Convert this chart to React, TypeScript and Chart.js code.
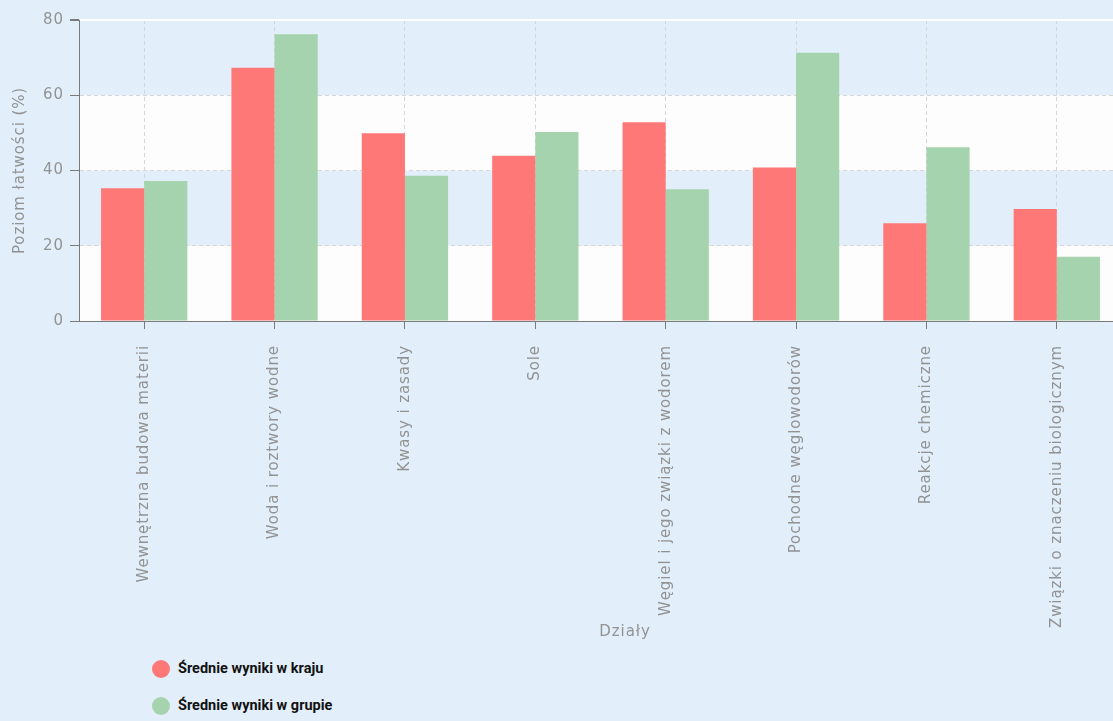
import React, { useEffect, useRef } from 'react';
import { Chart, registerables } from 'chart.js';

Chart.register(...registerables);

const categories = [
  'Wewnętrzna budowa materii',
  'Woda i roztwory wodne',
  'Kwasy i zasady',
  'Sole',
  'Węgiel i jego związki z wodorem',
  'Pochodne węglowodorów',
  'Reakcje chemiczne',
  'Związki o znaczeniu biologicznym',
];
const seriesNames = ['Średnie wyniki w kraju', 'Średnie wyniki w grupie'];
const krajValues = [35.3, 67.3, 49.9, 43.9, 52.8, 40.8, 26.0, 29.8];
const grupaValues = [37.2, 76.2, 38.6, 50.2, 35.0, 71.3, 46.2, 17.1];
const seriesColors = ['#ff7878', '#a5d3ad'];
const yMin = 0;
const yMax = 80;
const yStep = 20;
const whiteBands: [number, number][] = [
  [0, 20],
  [40, 60],
];
const yTitle = 'Poziom łatwości (%)';
const xTitle = 'Działy';

const BG = '#e2effa';
const TEXT_GRAY = '#929292';
const AXIS_GRAY = '#7a7a7a';
const GRID_GRAY = '#d6d6d6';
const LETTER_SPACING = '0.9px';
const FONT = 'DejaVu Sans';

const bandsPlugin = {
  id: 'bandsAndSpacing',
  beforeUpdate(chart: any) {
    chart.ctx.letterSpacing = LETTER_SPACING;
  },
  beforeLayout(chart: any) {
    chart.ctx.letterSpacing = LETTER_SPACING;
  },
  beforeDraw(chart: any) {
    const ctx = chart.ctx;
    ctx.letterSpacing = LETTER_SPACING;
    const { left, right } = chart.chartArea;
    const y = chart.scales.y;
    ctx.save();
    ctx.fillStyle = '#fdfdfd';
    for (const [a, b] of whiteBands) {
      const y1 = y.getPixelForValue(b);
      const y2 = y.getPixelForValue(a);
      ctx.fillRect(left, y1, right - left, y2 - y1);
    }
    ctx.restore();
  },
};

export default function App() {
  const canvasRef = useRef<HTMLCanvasElement | null>(null);

  useEffect(() => {
    document.body.style.margin = '0';
    document.body.style.overflow = 'hidden';
    document.body.style.background = BG;
    const canvas = canvasRef.current;
    if (!canvas) return;
    const chart = new Chart(canvas, {
      type: 'bar',
      data: {
        labels: categories,
        datasets: [
          {
            label: seriesNames[0],
            data: krajValues,
            backgroundColor: seriesColors[0],
            borderWidth: 0,
            categoryPercentage: 0.662,
            barPercentage: 1.0,
          },
          {
            label: seriesNames[1],
            data: grupaValues,
            backgroundColor: seriesColors[1],
            borderWidth: 0,
            categoryPercentage: 0.662,
            barPercentage: 1.0,
          },
        ],
      },
      plugins: [bandsPlugin],
      options: {
        responsive: false,
        maintainAspectRatio: false,
        animation: false,
        devicePixelRatio: 1,
        layout: { padding: { top: 20, left: 0, right: 0, bottom: 0 } },
        plugins: {
          legend: { display: false },
          tooltip: { enabled: false },
          title: {
            display: true,
            text: xTitle,
            position: 'bottom',
            color: TEXT_GRAY,
            font: { family: FONT, size: 15, weight: 'normal' },
            padding: { top: -10, bottom: 0 },
          },
        },
        scales: {
          x: {
            afterFit(scale: any) {
              scale.height = 312;
            },
            grid: {
              offset: false,
              color: GRID_GRAY,
              lineWidth: 1,
              tickColor: AXIS_GRAY,
              tickLength: 8,
              drawTicks: true,
            },
            border: { display: true, color: AXIS_GRAY, width: 1, dash: [4, 3] },
            ticks: {
              autoSkip: false,
              minRotation: 90,
              maxRotation: 90,
              padding: 16,
              color: TEXT_GRAY,
              font: { family: FONT, size: 15 },
            },
            title: { display: false },
          },
          y: {
            min: yMin,
            max: yMax,
            afterFit(scale: any) {
              scale.width = 79;
            },
            grid: {
              color: (ctx: any) =>
                ctx.tick && ctx.tick.value === yMax
                  ? '#ffffff'
                  : ctx.tick && ctx.tick.value === yMin
                  ? 'rgba(0,0,0,0)'
                  : GRID_GRAY,
              lineWidth: (ctx: any) => (ctx.tick && ctx.tick.value === yMax ? 2 : 1),
              tickColor: AXIS_GRAY,
              tickLength: 9,
              drawTicks: true,
            },
            border: {
              display: true,
              color: AXIS_GRAY,
              width: 1,
              dash: (ctx: any) => (ctx.tick && ctx.tick.value === yMax ? [] : [4, 3]),
            },
            ticks: {
              stepSize: yStep,
              padding: 6,
              color: TEXT_GRAY,
              font: { family: FONT, size: 15 },
            },
            title: {
              display: true,
              text: yTitle,
              color: TEXT_GRAY,
              font: { family: FONT, size: 15, weight: 'normal' },
              padding: { top: 11, bottom: 0 },
            },
          },
          yRightSpacer: {
            type: 'linear',
            position: 'right',
            display: true,
            afterFit(scale: any) {
              scale.width = 128;
            },
            grid: { display: false, drawOnChartArea: false, drawTicks: false },
            border: { display: false },
            ticks: { display: false },
            title: { display: false },
          },
        },
      },
    } as any);
    return () => chart.destroy();
  }, []);

  return (
    <div
      style={{
        position: 'relative',
        width: 1113,
        height: 721,
        overflow: 'hidden',
        background: BG,
      }}
    >
      <canvas
        ref={canvasRef}
        width={1250}
        height={641}
        style={{ display: 'block', width: 1250, height: 641 }}
      />
      <div style={{ position: 'absolute', left: 152, top: 650 }}>
        {seriesNames.map((name, i) => (
          <div
            key={name}
            style={{ display: 'flex', alignItems: 'center', height: 37 }}
          >
            <span
              style={{
                display: 'inline-block',
                width: 18,
                height: 18,
                borderRadius: '50%',
                background: seriesColors[i],
                marginRight: 8,
              }}
            />
            <span
              style={{
                fontFamily: 'Roboto, "Liberation Sans", Arial, sans-serif',
                fontWeight: 700,
                fontSize: 14.5,
                color: '#111',
              }}
            >
              {name}
            </span>
          </div>
        ))}
      </div>
    </div>
  );
}
